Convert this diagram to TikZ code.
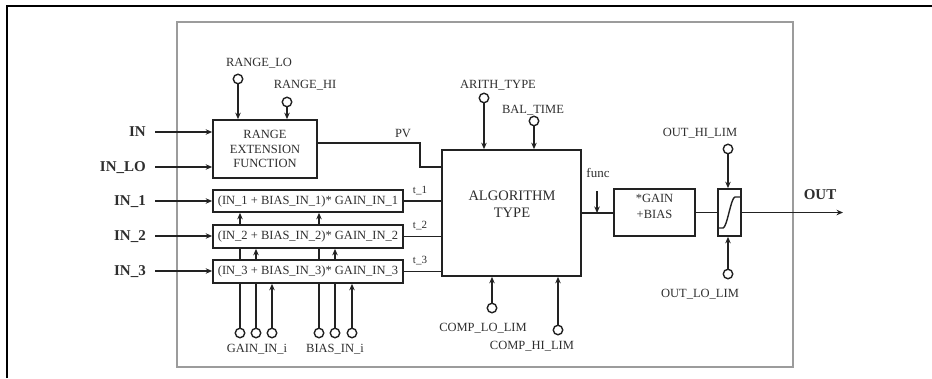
\documentclass[tikz,border=0pt]{standalone}
\usepackage{fontspec}
\setmainfont{Liberation Serif}
\usetikzlibrary{arrows.meta,backgrounds}
\definecolor{ln}{HTML}{222222}
\definecolor{tx}{HTML}{2E2E2E}
\definecolor{fr}{HTML}{9C9C9C}
\begin{document}
\begin{tikzpicture}[x=1pt,y=-1pt,
  lab/.style={text=tx,font=\fontsize{12.5}{14.5}\selectfont,inner sep=0,text height=8.3pt,text depth=0pt},
  small/.style={text=tx,font=\fontsize{11}{13}\selectfont,inner sep=0,text height=5pt,text depth=0pt},
  inlab/.style={text=tx,font=\fontsize{15}{17}\selectfont\bfseries,inner sep=0,text height=9.9pt,text depth=0pt,anchor=east},
  blk/.style={draw=ln,line width=1.7pt,fill=white,inner sep=0,align=center,text=tx},
  pin/.style={circle,draw=ln,line width=1.4pt,fill=white,minimum size=9.5pt,inner sep=0},
  wire/.style={draw=ln,line width=1.7pt},
  arr/.style={wire,-{Stealth[length=6.5pt,width=5.5pt]}},
]
\useasboundingbox (0,0) rectangle (932,378);
% frames
\draw[black,line width=1.2pt] (7,378) -- (7,6) -- (932,6);
\draw[fr,line width=1.6pt] (177,22) rectangle (793,367);

% blocks
\node[blk,minimum width=104pt,minimum height=58pt,font=\fontsize{12.5}{14.5}\selectfont] (rng) at (265,149) {RANGE\\EXTENSION\\FUNCTION};
\node[blk,minimum width=190pt,minimum height=22pt,font=\fontsize{12.5}{14.5}\selectfont] (f1) at (308,201) {(IN\_1 + BIAS\_IN\_1)* GAIN\_IN\_1};
\node[blk,minimum width=190pt,minimum height=23pt,font=\fontsize{12.5}{14.5}\selectfont] (f2) at (308,236.5) {(IN\_2 + BIAS\_IN\_2)* GAIN\_IN\_2};
\node[blk,minimum width=190pt,minimum height=23pt,font=\fontsize{12.5}{14.5}\selectfont] (f3) at (308,271.5) {(IN\_3 + BIAS\_IN\_3)* GAIN\_IN\_3};
\node[blk,minimum width=139pt,minimum height=126pt] (alg) at (511.5,213) {};
\node[text=tx,align=center,inner sep=0,font=\fontsize{14.5}{17}\selectfont] (algt) at (512,204) {ALGORITHM\\TYPE};
\node[blk,minimum width=81pt,minimum height=47pt,font=\fontsize{12.5}{16}\selectfont] (gb) at (654.5,212.5) {*GAIN\\+BIAS\\[-4pt]};
\node[blk,minimum width=23pt,minimum height=47pt] (lim) at (729.5,212.5) {};
\draw[wire,line width=1.4pt] (719,228) -- (723,228) .. controls (727,228) and (731,197) .. (735,197) -- (740,197);

% inputs
\node[inlab] (in0) at (146,132) {IN};
\node[inlab] (in1) at (146,167) {IN\_LO};
\node[inlab] (in2) at (146,201) {IN\_1};
\node[inlab] (in3) at (146,236) {IN\_2};
\node[inlab] (in4) at (146,271) {IN\_3};
\draw[arr] ([xshift=9pt]in0.east) -- (in0 -| rng.west);
\draw[arr] ([xshift=9pt]in1.east) -- (in1 -| rng.west);
\draw[arr] ([xshift=9pt]in2.east) -- (in2 -| f1.west);
\draw[arr] ([xshift=9pt]in3.east) -- (in3 -| f2.west);
\draw[arr] ([xshift=9pt]in4.east) -- (in4 -| f3.west);

% range pins
\node[pin] (rlo) at (238,79) {};
\node[lab] (rlol) at (259,62) {RANGE\_LO};
\draw[arr] (rlo) -- (rlo |- rng.north);
\node[pin] (rhi) at (287,102) {};
\node[lab] (rhil) at (305,84) {RANGE\_HI};
\draw[arr] (rhi) -- (rhi |- rng.north);

% PV and t lines
\draw[wire] ([yshift=6pt]rng.east) -| (420,167) -- ([yshift=46pt]alg.west);
\node[lab] (pvl) at (403,133) {PV};
\draw[wire] (f1.east) -- (f1.east -| alg.west);
\draw[wire] (f2.east) -- (f2.east -| alg.west);
\draw[wire] (f3.east) -- (f3.east -| alg.west);
\node[small] (t1) at (420,191) {t\_1};
\node[small] (t2) at (420,226) {t\_2};
\node[small] (t3) at (420,261) {t\_3};

% gain / bias pins
\node[pin] (g1) at (240,333) {};
\node[pin] (g2) at (256,333) {};
\node[pin] (g3) at (272,333) {};
\node[pin] (b1) at (319,333) {};
\node[pin] (b2) at (335,333) {};
\node[pin] (b3) at (352,333) {};
\begin{scope}[on background layer]
\draw[arr] (g1) -- (g1 |- f1.south);
\draw[arr] (g2) -- (g2 |- f2.south);
\draw[arr] (g3) -- (g3 |- f3.south);
\draw[arr] (b1) -- (b1 |- f1.south);
\draw[arr] (b2) -- (b2 |- f2.south);
\draw[arr] (b3) -- (b3 |- f3.south);
\end{scope}
\node[lab] (gl) at (257,348) {GAIN\_IN\_i};
\node[lab] (bl) at (335,348) {BIAS\_IN\_i};

% algorithm pins
\node[pin] (at) at (484,98) {};
\node[lab] (atl) at (498,84) {ARITH\_TYPE};
\draw[arr] (at) -- (at |- alg.north);
\node[pin] (bt) at (534,121) {};
\node[lab] (btl) at (533,109) {BAL\_TIME};
\draw[arr] (bt) -- (bt |- alg.north);
\node[pin] (cl) at (492,308) {};
\node[lab] (cll) at (483,327) {COMP\_LO\_LIM};
\draw[arr] (cl) -- (cl |- alg.south);
\node[pin] (ch) at (558,330) {};
\node[lab] (chl) at (532,345) {COMP\_HI\_LIM};
\draw[arr] (ch) -- (ch |- alg.south);

% output side
\draw[wire] (alg.east) -- (alg.east -| gb.west);
\coordinate (fa) at (597,191);
\draw[arr] (fa) -- (fa |- alg.east);
\node[text=tx,inner sep=0,font=\fontsize{13}{15}\selectfont,text height=6pt,text depth=0pt] (fl) at (598,174) {func};
\draw[wire] (gb.east) -- (lim.west);
\coordinate (oe) at (843,212.5);
\draw[arr] (lim.east) -- (oe);
\node[text=tx,inner sep=0,font=\fontsize{15}{17}\selectfont\bfseries,text height=9.9pt,text depth=0pt] (outl) at (820,195) {OUT};
\node[pin] (oh) at (728,149) {};
\node[lab] (ohl) at (700,132) {OUT\_HI\_LIM};
\draw[arr] (oh) -- (oh |- lim.north);
\node[pin] (ol) at (728,274) {};
\node[lab] (oll) at (700,293) {OUT\_LO\_LIM};
\draw[arr] (ol) -- (ol |- lim.south);
\end{tikzpicture}
\end{document}
